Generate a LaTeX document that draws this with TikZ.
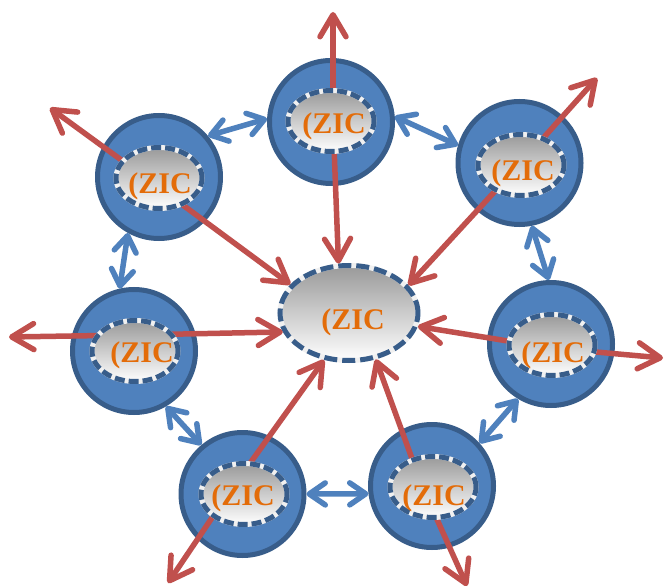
\documentclass[tikz,border=0pt]{standalone}
\usepackage{fontspec}
\setmainfont{Liberation Serif}
\usetikzlibrary{arrows.meta,shapes.geometric}

\definecolor{ringfill}{HTML}{4F81BD}
\definecolor{ringedge}{HTML}{385D8A}
\definecolor{linkblue}{HTML}{4F81BD}
\definecolor{flowred}{HTML}{C0504D}
\definecolor{zicorange}{HTML}{E36C09}

\tikzset{
  ring/.style={circle, minimum size=123pt, inner sep=0pt, fill=ringfill,
    draw=ringedge, line width=5pt},
  core/.style={ellipse, minimum width=86pt, minimum height=61pt, inner sep=0pt,
    outer sep=2.5pt, top color=black!40, bottom color=white},
  hub/.style={ellipse, minimum width=138pt, minimum height=95pt, inner sep=0pt,
    outer sep=2.5pt, top color=black!40, bottom color=white},
  rim/.style={draw=white!94!black, line width=5pt,
    postaction={draw=ringedge, line width=5pt, dash pattern=on #1}},
  lbl/.style={anchor=base, inner sep=0pt, text=zicorange,
    font=\bfseries\fontsize{30}{30}\selectfont},
  flow/.style={draw=flowred, line width=5.5pt,
    -{Straight Barb[length=22pt,width=26pt,round]}},
  link/.style={draw=linkblue, line width=5.5pt,
    {Straight Barb[length=16pt,width=22pt,round]}-{Straight Barb[length=16pt,width=22pt,round]}},
}

\begin{document}
\begin{tikzpicture}[x=1pt,y=-1pt]
\useasboundingbox (0,0) rectangle (664,588);

% outer rings
\node[ring] (nT)  at (331,122)   {};
\node[ring] (nTL) at (159,177)   {};
\node[ring] (nTR) at (519.5,163) {};
\node[ring] (nL)  at (134,351)   {};
\node[ring] (nR)  at (551,344)   {};
\node[ring] (nBL) at (242.5,494) {};
\node[ring] (nBR) at (432,486)   {};

% central hub and its dashed rim
\node[hub] (nC) at (349,313) {};
\draw[rim={13pt off 5pt}] (nC.center) ellipse [x radius=69pt, y radius=47.5pt];

% start points of the red flows (hidden under the inner ellipses)
\coordinate (sT)  at (333,120);
\coordinate (sTL) at (157,186);
\coordinate (sTR) at (520,164);
\coordinate (sL)  at (134,335);
\coordinate (sR)  at (551,348);
\coordinate (sBL) at (228,494);
\coordinate (sBR) at (422,486);

% free ends of the outward flows
\coordinate (oT)  at (333,12);
\coordinate (oTL) at (50,108);
\coordinate (oTR) at (597,78);
\coordinate (oL)  at (9,337);
\coordinate (oR)  at (663,358);
\coordinate (oBL) at (168,583);
\coordinate (oBR) at (467,586);

% outward flows
\draw[flow] (sT)  -- (oT);
\draw[flow] (sTL) -- (oTL);
\draw[flow] (sTR) -- (oTR);
\draw[flow] (sL)  -- (oL);
\draw[flow] (sR)  -- (oR);
\draw[flow] (sBL) -- (oBL);
\draw[flow] (sBR) -- (oBR);

% inward flows to the hub
\draw[flow] (sT)  -- (nC.102);
\draw[flow] (sTL) -- (nC.154);
\draw[flow] (sTR) -- (nC.25);
\draw[flow] (sL)  -- (nC.196);
\draw[flow] (sR)  -- (nC.349);
\draw[flow] (sBL) -- (nC.242);
\draw[flow] (sBR) -- (nC.300);

% inner ellipses with dashed rims
\foreach \n/\x/\y in {cT/331/121, cTL/159/178, cTR/521/165, cL/135/351,
                      cR/552/345, cBL/244/494, cBR/433/487} {
  \node[core] (\n) at (\x,\y) {};
  \draw[rim={10pt off 4pt}] (\n.center) ellipse [x radius=43pt, y radius=30.5pt];
}

% labels
\node[lbl] (tT)  at (334,134) {(ZIC};
\node[lbl] (tTL) at (160,194) {(ZIC};
\node[lbl] (tTR) at (523,181) {(ZIC};
\node[lbl] (tL)  at (142,362) {(ZIC};
\node[lbl] (tR)  at (553,362) {(ZIC};
\node[lbl] (tBL) at (243,505) {(ZIC};
\node[lbl] (tBR) at (434,505) {(ZIC};
\node[lbl] (tC)  at (353,329) {(ZIC};

% links between neighbouring rings
\draw[link] (nTL.40)   -- (nT.177);
\draw[link] (nT.5)     -- (nTR.164);
\draw[link] (nTR.-79)  -- (nR.92);
\draw[link] (nR.-121)  -- (nBR.42);
\draw[link] (nBR.187)  -- (nBL.0);
\draw[link] (nBL.130)  -- (nL.-60);
\draw[link] (nL.103)   -- (nTL.241);
\end{tikzpicture}
\end{document}
